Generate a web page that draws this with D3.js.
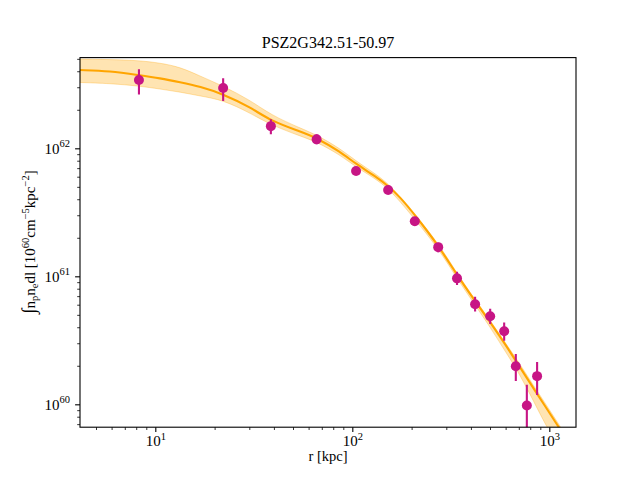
<!DOCTYPE html>
<html><head><meta charset="utf-8">
<script src="https://cdn.jsdelivr.net/npm/d3@7"></script>
<style>
body{margin:0;background:#fff}
svg{display:block}
text{font-family:"Liberation Serif","DejaVu Serif",serif;fill:#000}
</style>
</head><body>
<svg id="c" width="640" height="480"></svg>
<script>
// ---------- data ----------
const title = "PSZ2G342.51-50.97";
const xLabel = "r [kpc]";

// measured profile (points with error bars)
const radius    = [8.26, 22.1, 38.6, 65.9, 104.5, 152, 207.6, 272.9, 340, 420, 501, 590, 676, 769, 867];
const profile   = [3.42e62, 2.96e62, 1.49e62, 1.175e62, 6.65e61, 4.72e61, 2.69e61, 1.69e61, 9.64e60, 6.04e60, 4.87e60, 3.72e60, 1.98e60, 9.8e59, 1.66e60];
const profileLo = [2.63e62, 2.34e62, 1.29e62, 1.074e62, 6.31e61, 4.47e61, 2.49e61, 1.54e61, 8.55e60, 5.30e60, 4.24e60, 3.14e60, 1.52e60, 4.0e59, 1.18e60];
const profileHi = [4.14e62, 3.52e62, 1.69e62, 1.285e62, 7.02e61, 4.98e61, 2.91e61, 1.83e61, 1.087e61, 6.93e60, 5.58e60, 4.35e60, 2.47e60, 1.42e60, 2.14e60];

// model curve and its uncertainty band
const modelR  = [4.147, 5.89, 8.27, 10.56, 13.35, 16.86, 22.07, 30.25, 38.66, 54.27, 66.2, 86.6, 104.4, 130.4, 151.8, 174.7, 208.1, 272.3, 340.0, 419.6, 500.0, 582.1, 677.6, 798.0, 951.1, 1107, 1201];
const model   = [4.089e62, 4.016e62, 3.725e62, 3.529e62, 3.285e62, 3.040e62, 2.656e62, 2.102e62, 1.634e62, 1.353e62, 1.204e62, 9.400e61, 7.542e61, 6.076e61, 5.100e61, 4.164e61, 3.013e61, 1.756e61, 1.024e61, 6.412e60, 4.395e60, 3.123e60, 2.180e60, 1.467e60, 9.698e59, 6.770e59, 5.554e59];
const modelHi = [4.986e62, 4.941e62, 4.853e62, 4.640e62, 4.317e62, 3.672e62, 3.067e62, 2.385e62, 1.821e62, 1.441e62, 1.270e62, 9.964e61, 7.961e61, 6.356e61, 5.309e61, 4.164e61, 3.013e61, 1.837e61, 1.052e61, 6.589e60, 4.556e60, 3.208e60, 2.300e60, 1.548e60, 1.024e60, 7.144e59, 5.861e59];
const modelLo = [3.267e62, 3.209e62, 3.067e62, 2.906e62, 2.754e62, 2.562e62, 2.385e62, 1.887e62, 1.521e62, 1.248e62, 1.120e62, 8.866e61, 7.145e61, 5.810e61, 4.853e61, 3.841e61, 2.778e61, 1.664e61, 9.612e60, 5.967e60, 4.017e60, 2.754e60, 1.921e60, 1.204e60, 7.016e59, 4.724e59, 3.807e59];

// ticks
const xTicks = [10, 100, 1000];
const xTickLabels = [["10","1"],["10","2"],["10","3"]];
const xMinor = [5,6,7,8,9,20,30,40,50,60,70,80,90,200,300,400,500,600,700,800,900];
const yTicks = [1e60, 1e61, 1e62];
const yTickLabels = [["10","60"],["10","61"],["10","62"]];
const yMinor = [7e59,8e59,9e59,2e60,3e60,4e60,5e60,6e60,7e60,8e60,9e60,2e61,3e61,4e61,5e61,6e61,7e61,8e61,9e61,2e62,3e62,4e62,5e62];

// ---------- layout ----------
const L = 80, R = 576, T = 57.6, B = 427.2;
const svg = d3.select("#c");
const x = d3.scaleLog().domain([4.147, 1366]).range([L, R]);
const y = d3.scaleLog().domain([6.625e59, 5.113e62]).range([B, T]);

svg.append("defs").append("clipPath").attr("id","clip")
  .append("rect").attr("x",L).attr("y",T).attr("width",R-L).attr("height",B-T);

const plot = svg.append("g").attr("clip-path","url(#clip)");

// band
const idx = d3.range(modelR.length);
plot.append("path")
  .attr("d", d3.area().curve(d3.curveBasis)
    .x(i => x(modelR[i])).y0(i => y(modelLo[i])).y1(i => y(modelHi[i]))(idx))
  .attr("fill","orange").attr("fill-opacity",0.3)
  .attr("stroke","orange").attr("stroke-opacity",0.3).attr("stroke-width",1);

// model line
plot.append("path")
  .attr("d", d3.line().curve(d3.curveBasis)
    .x(i => x(modelR[i])).y(i => y(model[i]))(idx))
  .attr("fill","none").attr("stroke","orange").attr("stroke-width",2.1);

// error bars
const pIdx = d3.range(radius.length);
plot.selectAll("line.err").data(pIdx).join("line")
  .attr("x1", i => x(radius[i])).attr("x2", i => x(radius[i]))
  .attr("y1", i => y(profileLo[i])).attr("y2", i => y(profileHi[i]))
  .attr("stroke","#c71585").attr("stroke-width",2.1);
plot.selectAll("circle.pt").data(pIdx).join("circle")
  .attr("cx", i => x(radius[i])).attr("cy", i => y(profile[i]))
  .attr("r", 5).attr("fill","#c71585");

// axes
function styleAxis(g){
  g.select(".domain").remove();
  g.selectAll(".tick line").attr("stroke","#000").attr("stroke-width",1.1);
}
const gx = svg.append("g").attr("transform",`translate(0,${B})`)
  .call(d3.axisBottom(x).tickValues(xTicks).tickSize(4.9).tickSizeOuter(0).tickPadding(6).tickFormat(() => ""));
styleAxis(gx);
gx.selectAll(".tick text").each(function(d,i){
  const t = d3.select(this).attr("font-size",15).attr("fill","#000").attr("dy",null).attr("y",18.5);
  t.append("tspan").text(xTickLabels[i][0]);
  t.append("tspan").attr("font-size",10.5).attr("dy",-6).text(xTickLabels[i][1]);
});
const gxm = svg.append("g").attr("transform",`translate(0,${B})`)
  .call(d3.axisBottom(x).tickValues(xMinor).tickSize(2.8).tickSizeOuter(0).tickFormat(() => ""));
styleAxis(gxm);
gxm.selectAll(".tick line").attr("stroke-width",0.8);

const gy = svg.append("g").attr("transform",`translate(${L},0)`)
  .call(d3.axisLeft(y).tickValues(yTicks).tickSize(4.9).tickSizeOuter(0).tickPadding(5).tickFormat(() => ""));
styleAxis(gy);
gy.selectAll(".tick text").each(function(d,i){
  const t = d3.select(this).attr("font-size",15).attr("fill","#000").attr("dy","0.32em");
  t.append("tspan").text(yTickLabels[i][0]);
  t.append("tspan").attr("font-size",10.5).attr("dy",-6.5).text(yTickLabels[i][1]);
});
const gym = svg.append("g").attr("transform",`translate(${L},0)`)
  .call(d3.axisLeft(y).tickValues(yMinor).tickSize(2.8).tickSizeOuter(0).tickFormat(() => ""));
styleAxis(gym);
gym.selectAll(".tick line").attr("stroke-width",0.8);

// frame
svg.append("rect").attr("x",L).attr("y",T).attr("width",R-L).attr("height",B-T)
  .attr("fill","none").attr("stroke","#000").attr("stroke-width",1.1);

// title
svg.append("text").attr("x",(L+R)/2).attr("y",48).attr("text-anchor","middle")
  .attr("font-size",16).text(title);

// x label
svg.append("text").attr("x",(L+R)/2).attr("y",461).attr("text-anchor","middle")
  .attr("font-size",14.5).text(xLabel);

// y label
const yl = svg.append("text").attr("transform",`translate(35,242) rotate(-90)`)
  .attr("text-anchor","middle").attr("font-size",15);
const parts = [
  ["∫",0,19],["n",0,15],["p",3,10.5],["n",-3,15],["e",3,10.5],["dl [10",-3,15],["60",-6.5,10.5],
  ["cm",6.5,15],["−5",-6.5,10.5],["kpc",6.5,15],["−2",-6.5,10.5],["]",6.5,15]
];
parts.forEach(p => yl.append("tspan").attr("dy",p[1]).attr("font-size",p[2]).text(p[0]));
</script>
</body></html>
